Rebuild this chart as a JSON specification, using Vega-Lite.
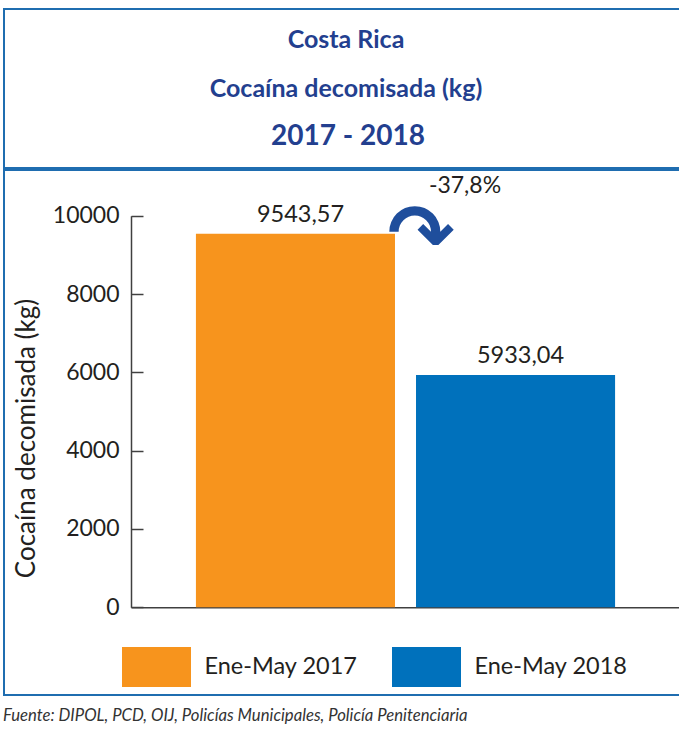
{
  "$schema": "https://vega.github.io/schema/vega-lite/v6.json",
  "background": "white",
  "padding": {"left": 3, "top": 8, "right": 0, "bottom": 0},
  "config": {
    "locale": {"number": {"decimal": ",", "thousands": ".", "grouping": [3], "currency": ["", ""], "minus": "-"}},
    "view": {"stroke": "#1f6db0", "strokeWidth": 2},
    "font": "Lato"
  },
  "title": {
    "text": "Fuente: DIPOL, PCD, OIJ, Policías Municipales, Policía Penitenciaria",
    "orient": "bottom",
    "anchor": "start",
    "font": "Lato",
    "fontSize": 16.7,
    "fontStyle": "italic",
    "fontWeight": "normal",
    "color": "#333333",
    "offset": 12
  },
  "spacing": 0,
  "vconcat": [
    {
      "width": 676,
      "height": 159,
      "data": {"values": [
        {"linea": "Costa Rica"},
        {"linea": "Cocaína decomisada (kg)"},
        {"linea": "2017 - 2018"}
      ]},
      "encoding": {
        "y": {
          "field": "linea",
          "type": "ordinal",
          "sort": null,
          "axis": null,
          "scale": {"type": "point", "padding": 0.64, "domain": ["Costa Rica", "Cocaína decomisada (kg)", "2017 - 2018"]}
        },
        "text": {"field": "linea"}
      },
      "layer": [
        {
          "transform": [{"filter": "datum.linea != '2017 - 2018'"}],
          "mark": {"type": "text", "font": "Lato", "fontWeight": "bold", "fontSize": 25, "color": "#233f8f", "baseline": "middle", "dx": 4}
        },
        {
          "transform": [{"filter": "datum.linea == '2017 - 2018'"}],
          "mark": {"type": "text", "font": "Lato", "fontWeight": "bold", "fontSize": 28, "color": "#233f8f", "baseline": "middle", "dx": 6}
        }
      ]
    },
    {
      "width": 676,
      "height": 525,
      "data": {"values": [
        {"periodo": "Ene-May 2017", "kg": 9543.57},
        {"periodo": "Ene-May 2018", "kg": 5933.04, "variacion": -0.378}
      ]},
      "encoding": {
        "x": {
          "field": "periodo",
          "type": "nominal",
          "scale": {"range": [127, 676], "paddingInner": 0.0955, "paddingOuter": 0.295},
          "axis": {"orient": "bottom", "offset": -87.8, "labels": false, "ticks": false, "title": null, "domainColor": "#404040", "domainWidth": 1.5, "grid": false}
        },
        "y": {
          "field": "kg",
          "type": "quantitative",
          "scale": {"domain": [0, 10000], "range": [437.2, 45.8], "nice": false},
          "axis": {
            "orient": "left",
            "offset": -127,
            "values": [0, 2000, 4000, 6000, 8000, 10000],
            "format": "d",
            "tickSize": -12,
            "tickWidth": 1.5,
            "tickColor": "#404040",
            "domainColor": "#404040",
            "domainWidth": 1.5,
            "labelFont": "Lato",
            "labelFontSize": 23,
            "labelColor": "#231f20",
            "labelPadding": 24,
            "grid": false,
            "title": "Cocaína decomisada (kg)",
            "titleFont": "Lato",
            "titleFontSize": 26,
            "titleFontWeight": "normal",
            "titleColor": "#231f20",
            "titleX": -105,
            "titleY": 268,
            "titleAngle": -90,
            "titleAlign": "center",
            "titleBaseline": "middle"
          }
        }
      },
      "layer": [
        {
          "mark": {"type": "bar"},
          "encoding": {
            "color": {
              "field": "periodo",
              "type": "nominal",
              "scale": {"domain": ["Ene-May 2017", "Ene-May 2018"], "range": ["#f7941d", "#0071bc"]},
              "legend": {
                "orient": "none",
                "legendX": 132.5,
                "legendY": 638,
                "direction": "horizontal",
                "title": null,
                "symbolType": "M-1.725,-1H1.725V1H-1.725Z",
                "symbolSize": 1600,
                "symbolStrokeWidth": 0,
                "symbolOpacity": 1,
                "labelFont": "Lato",
                "labelFontSize": 23.5,
                "labelColor": "#231f20",
                "labelOffset": 28,
                "labelLimit": 300,
                "columnPadding": 33,
                "padding": 0
              }
            }
          }
        },
        {
          "mark": {"type": "text", "font": "Lato", "fontSize": 23.5, "color": "#231f20", "baseline": "alphabetic", "dy": -12, "dx": 5},
          "encoding": {"text": {"field": "kg", "type": "quantitative", "format": ".2f"}}
        },
        {
          "transform": [{"filter": "isValid(datum.variacion)"}],
          "mark": {"type": "text", "font": "Lato", "fontSize": 23, "color": "#231f20", "baseline": "middle", "dx": 49},
          "encoding": {
            "x": {"field": "periodo", "type": "nominal", "bandPosition": 0},
            "y": {"datum": 10750},
            "text": {"field": "variacion", "type": "quantitative", "format": ".1%"}
          }
        },
        {
          "transform": [{"filter": "isValid(datum.variacion)"}],
          "mark": {"type": "text", "font": "DejaVu Sans", "fontWeight": "bold", "fontSize": 80, "color": "#1f4e9c", "baseline": "middle", "dx": 5},
          "encoding": {
            "x": {"field": "periodo", "type": "nominal", "bandPosition": 0},
            "y": {"datum": 9450},
            "text": {"value": "↷"}
          }
        }
      ]
    }
  ]
}
